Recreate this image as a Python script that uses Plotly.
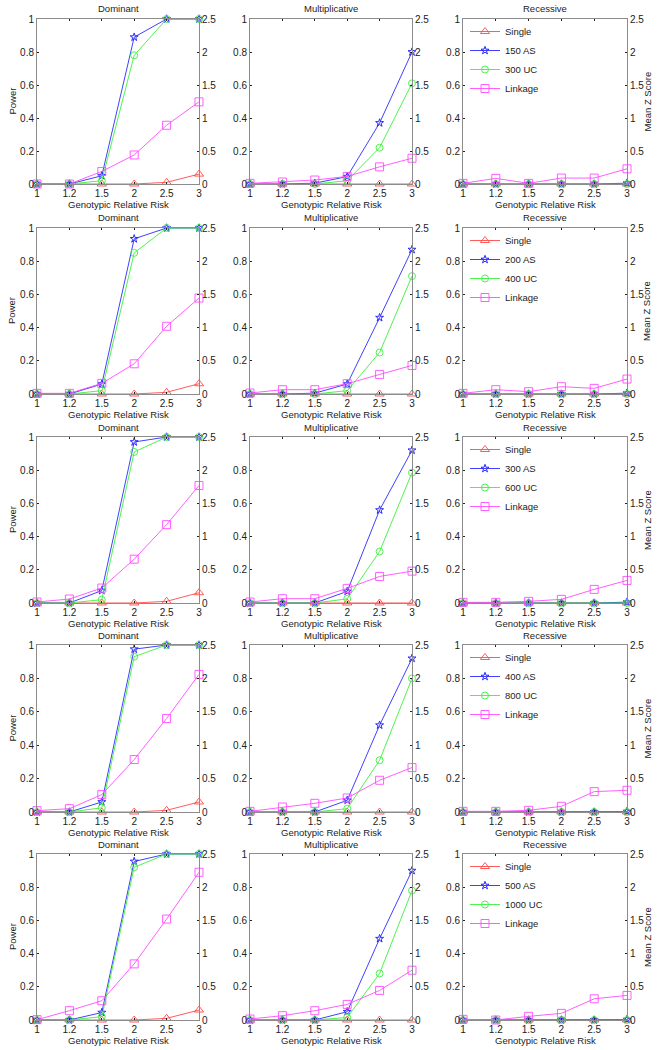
import plotly.graph_objects as go
from plotly.subplots import make_subplots

# ---------------- data ----------------
grr = ["1", "1.2", "1.5", "2", "2.5", "3"]
models = ["Dominant", "Multiplicative", "Recessive"]
as_labels = ["150 AS", "200 AS", "300 AS", "400 AS", "500 AS"]
uc_labels = ["300 UC", "400 UC", "600 UC", "800 UC", "1000 UC"]
power_ticks = [0, 0.2, 0.4, 0.6, 0.8, 1]
z_ticks = [0, 0.5, 1, 1.5, 2, 2.5]

# Power, single marker
single_dom = [
    [0, 0, 0, 0, 0.01, 0.06],
    [0, 0, 0, 0, 0.01, 0.062],
    [0, 0, 0, 0, 0.01, 0.062],
    [0, 0, 0, 0, 0.01, 0.06],
    [0, 0, 0, 0, 0.01, 0.06],
]
single_mult = [[0, 0, 0, 0, 0, 0] for _ in range(5)]
single_rec = [[0, 0, 0, 0, 0, 0] for _ in range(5)]

# Power, affected sib design
as_dom = [
    [0, 0, 0.05, 0.89, 1, 1],
    [0, 0, 0.06, 0.935, 1, 1],
    [0, 0, 0.075, 0.97, 1, 1],
    [0, 0, 0.06, 0.975, 1, 1],
    [0, 0, 0.045, 0.955, 1, 1],
]
as_mult = [
    [0, 0, 0.005, 0.045, 0.37, 0.80],
    [0, 0, 0.005, 0.06, 0.46, 0.87],
    [0, 0, 0, 0.07, 0.56, 0.92],
    [0, 0, 0, 0.07, 0.52, 0.92],
    [0, 0, 0, 0.05, 0.49, 0.90],
]
as_rec = [
    [0, 0, 0, 0, 0, 0.005],
    [0, 0, 0, 0, 0, 0.005],
    [0, 0, 0, 0, 0, 0.005],
    [0, 0, 0, 0, 0, 0.003],
    [0, 0, 0, 0, 0, 0.003],
]

# Power, unrelated controls design
uc_dom = [
    [0, 0, 0.02, 0.78, 1, 1],
    [0, 0, 0.02, 0.85, 1, 1],
    [0, 0, 0.02, 0.91, 1, 1],
    [0, 0, 0.025, 0.93, 1, 1],
    [0, 0, 0.02, 0.92, 1, 1],
]
uc_mult = [
    [0, 0, 0, 0.02, 0.22, 0.61],
    [0, 0, 0, 0.02, 0.25, 0.71],
    [0, 0, 0, 0.025, 0.31, 0.785],
    [0, 0, 0, 0.02, 0.31, 0.80],
    [0, 0, 0, 0.015, 0.28, 0.78],
]
uc_rec = [[0, 0, 0, 0, 0, 0] for _ in range(5)]

# Mean Z score, linkage
link_dom = [
    [0, 0, 0.19, 0.44, 0.89, 1.245],
    [0.01, 0.01, 0.16, 0.455, 1.02, 1.445],
    [0.015, 0.06, 0.225, 0.66, 1.18, 1.77],
    [0.02, 0.05, 0.26, 0.785, 1.4, 2.06],
    [0.005, 0.14, 0.29, 0.845, 1.52, 2.225],
]
link_mult = [
    [0.01, 0.03, 0.06, 0.115, 0.26, 0.39],
    [0.015, 0.065, 0.065, 0.155, 0.295, 0.43],
    [0.015, 0.065, 0.065, 0.22, 0.40, 0.48],
    [0.01, 0.075, 0.13, 0.21, 0.475, 0.665],
    [0.015, 0.065, 0.14, 0.235, 0.445, 0.75],
]
link_rec = [
    [0.01, 0.085, 0.01, 0.09, 0.09, 0.23],
    [0.01, 0.065, 0.035, 0.11, 0.085, 0.225],
    [0.01, 0.01, 0.025, 0.055, 0.205, 0.34],
    [0.01, 0.01, 0.025, 0.085, 0.305, 0.325],
    [0.01, 0.0, 0.055, 0.10, 0.32, 0.37],
]

single_all = [single_dom, single_mult, single_rec]
as_all = [as_dom, as_mult, as_rec]
uc_all = [uc_dom, uc_mult, uc_rec]
link_all = [link_dom, link_mult, link_rec]

# ---------------- layout geometry ----------------
W, H = 657, 1050
col_px = [(37, 199), (250, 412), (463, 627)]
row_px = [(19, 184), (228, 394), (437, 603), (645, 812), (854, 1020)]

RED = "#ff4a4a"
BLUE = "#2a2aff"
GREEN = "#3cef3c"
MAG = "#ff4cff"
FONT = "Arial, Liberation Sans, sans-serif"
AXC = "#8c8c8c"
TXT = "#222222"


def px_x(p):
    return p / W


def px_y(p):
    return 1 - p / H


fig = make_subplots(rows=5, cols=3, specs=[[{"secondary_y": True}] * 3] * 5)

for r in range(5):
    for c in range(3):
        show = (c == 2)
        lg = "legend" if r == 0 else f"legend{r + 1}"
        common = dict(mode="lines+markers", cliponaxis=False, legend=lg,
                      hoverinfo="skip")
        fig.add_trace(go.Scatter(
            x=grr, y=single_all[c][r], name="Single", showlegend=show,
            line=dict(color=RED, width=0.9),
            marker=dict(symbol="triangle-up-open", size=8, color=RED,
                        line=dict(width=0.9, color=RED)), **common),
            row=r + 1, col=c + 1, secondary_y=False)
        fig.add_trace(go.Scatter(
            x=grr, y=as_all[c][r], name=as_labels[r], showlegend=show,
            line=dict(color=BLUE, width=0.9),
            marker=dict(symbol="star-open", size=6, color=BLUE,
                        line=dict(width=1.0, color=BLUE)), **common),
            row=r + 1, col=c + 1, secondary_y=False)
        fig.add_trace(go.Scatter(
            x=grr, y=uc_all[c][r], name=uc_labels[r], showlegend=show,
            line=dict(color=GREEN, width=0.9),
            marker=dict(symbol="circle-open", size=7, color=GREEN,
                        line=dict(width=0.9, color=GREEN)), **common),
            row=r + 1, col=c + 1, secondary_y=False)
        fig.add_trace(go.Scatter(
            x=grr, y=link_all[c][r], name="Linkage", showlegend=show,
            line=dict(color=MAG, width=0.9),
            marker=dict(symbol="square-open", size=8, color=MAG,
                        line=dict(width=0.9, color=MAG)), **common),
            row=r + 1, col=c + 1, secondary_y=True)

        x0, x1 = col_px[c]
        t, b = row_px[r]
        xd = [px_x(x0), px_x(x1)]
        yd = [px_y(b), px_y(t)]
        fig.update_xaxes(
            domain=xd, type="category", range=[0, 5], automargin=False,
            showline=True, linecolor=AXC, linewidth=1, mirror="ticks",
            ticks="inside", ticklen=2, tickcolor=TXT, showgrid=False,
            zeroline=False, tickfont=dict(size=10, color=TXT, family=FONT),
            fixedrange=True, row=r + 1, col=c + 1)
        fig.update_yaxes(
            domain=yd, range=[0, 1], tickvals=power_ticks, automargin=False,
            ticktext=[f"{v:g}" for v in power_ticks],
            showline=True, linecolor=AXC, linewidth=1,
            ticks="inside", ticklen=2, tickcolor=TXT, showgrid=False,
            zeroline=False, tickfont=dict(size=10, color=TXT, family=FONT),
            fixedrange=True, row=r + 1, col=c + 1, secondary_y=False)
        fig.update_yaxes(
            range=[0, 2.5], tickvals=z_ticks, automargin=False,
            ticktext=[f"{v:g}" for v in z_ticks],
            showline=True, linecolor=AXC, linewidth=1,
            ticks="inside", ticklen=2, tickcolor=TXT, showgrid=False,
            zeroline=False, tickfont=dict(size=10, color=TXT, family=FONT),
            fixedrange=True, row=r + 1, col=c + 1, secondary_y=True)

        tfont = dict(size=9.5, color=TXT, family=FONT)
        # panel title
        fig.add_annotation(
            text=models[c], xref="paper", yref="paper",
            x=px_x((x0 + x1) / 2), y=px_y(t - 10),
            xanchor="center", yanchor="middle", showarrow=False, font=tfont)
        # x axis title
        fig.add_annotation(
            text="Genotypic Relative Risk", xref="paper", yref="paper",
            x=px_x((x0 + x1) / 2), y=px_y(b + 20),
            xanchor="center", yanchor="middle", showarrow=False, font=tfont)
        if c == 0:
            fig.add_annotation(
                text="Power", xref="paper", yref="paper", textangle=-90,
                x=px_x(12), y=px_y((t + b) / 2),
                xanchor="center", yanchor="middle", showarrow=False,
                font=tfont)
        if c == 2:
            fig.add_annotation(
                text="Mean Z Score", xref="paper", yref="paper",
                textangle=-90, x=px_x(647), y=px_y((t + b) / 2),
                xanchor="center", yanchor="middle", showarrow=False,
                font=tfont)

legends = {}
for r in range(5):
    key = "legend" if r == 0 else f"legend{r + 1}"
    legends[key] = dict(
        x=px_x(465), y=px_y(row_px[r][0] - 2),
        xanchor="left", yanchor="top", bgcolor="rgba(0,0,0,0)",
        borderwidth=0, itemwidth=30, itemclick=False, itemdoubleclick=False,
        font=dict(size=9.5, color=TXT, family=FONT))

fig.update_layout(
    width=W, height=H, margin=dict(l=0, r=0, t=0, b=0, autoexpand=False),
    paper_bgcolor="white", plot_bgcolor="white", hovermode=False,
    font=dict(family=FONT, size=10, color=TXT),
    **legends)

fig.write_html("out.html",
               config={"displayModeBar": False, "staticPlot": True},
               post_script="document.body.style.margin='0';"
                           "document.body.style.overflow='hidden';")
